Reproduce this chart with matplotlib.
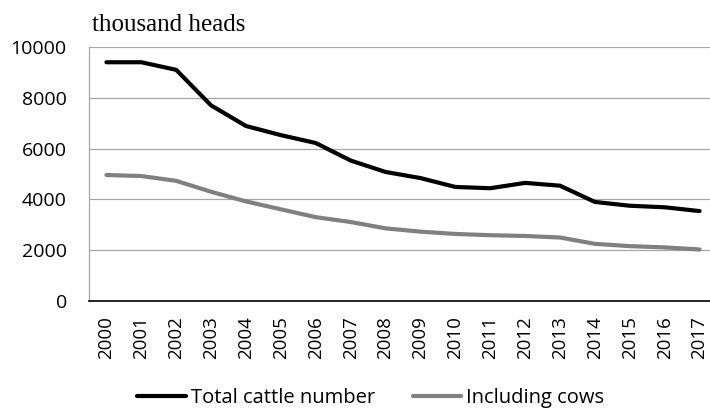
import matplotlib
matplotlib.use("Agg")
import matplotlib.pyplot as plt
from matplotlib.ticker import MultipleLocator

years = [str(y) for y in range(2000, 2018)]
total_cattle = [9400, 9400, 9100, 7700, 6890, 6530, 6220, 5530, 5080, 4840,
                4490, 4440, 4650, 4540, 3900, 3750, 3690, 3540]
cows = [4960, 4920, 4730, 4300, 3920, 3610, 3300, 3110, 2860, 2730,
        2640, 2590, 2560, 2500, 2250, 2160, 2110, 2030]

fig = plt.figure(figsize=(7.1, 4.09), dpi=100)
# plot area: x from 89 to ~717 px, y from 47 to 301 px
ax = fig.add_axes([89/710, 1 - 301/409, (717-89)/710, (301-47)/409])

x = list(range(len(years)))
l1, = ax.plot(x, total_cattle, color="black", lw=3.0, solid_capstyle="round",
              label="Total cattle number")
l2, = ax.plot(x, cows, color="#808080", lw=3.0, solid_capstyle="round",
              label="Including cows")

ax.set_xlim(-0.5, len(years) - 0.5)
ax.set_ylim(0, 10000)
ax.yaxis.set_major_locator(MultipleLocator(2000))
ax.set_xticks(x)
ax.set_xticklabels(years, rotation=90, fontsize=13.5, family="Open Sans")
for lab in ax.get_yticklabels():
    lab.set_family("Open Sans")
    lab.set_fontsize(14)
ax.tick_params(axis="x", length=0, pad=11)
ax.tick_params(axis="y", length=0, pad=16)

ax.grid(axis="y", color="#a6a6a6", lw=0.9)
ax.set_axisbelow(True)
for s in ["top", "right"]:
    ax.spines[s].set_visible(False)
ax.spines["left"].set_color("#a6a6a6")
ax.spines["left"].set_linewidth(0.9)
ax.spines["bottom"].set_color("black")
ax.spines["bottom"].set_linewidth(1.2)

fig.text(92/710, 1 - 31/409, "thousand heads", family="Liberation Serif",
         fontsize=18, va="baseline", ha="left")

fig.legend(handles=[l1, l2], loc="center", bbox_to_anchor=(371/710, 1 - 398/409),
           ncol=2, frameon=False, prop={"family": "Open Sans", "size": 14.5},
           handlelength=2.4, handletextpad=0.25, columnspacing=1.9)

fig.savefig("out.png", dpi=100)
